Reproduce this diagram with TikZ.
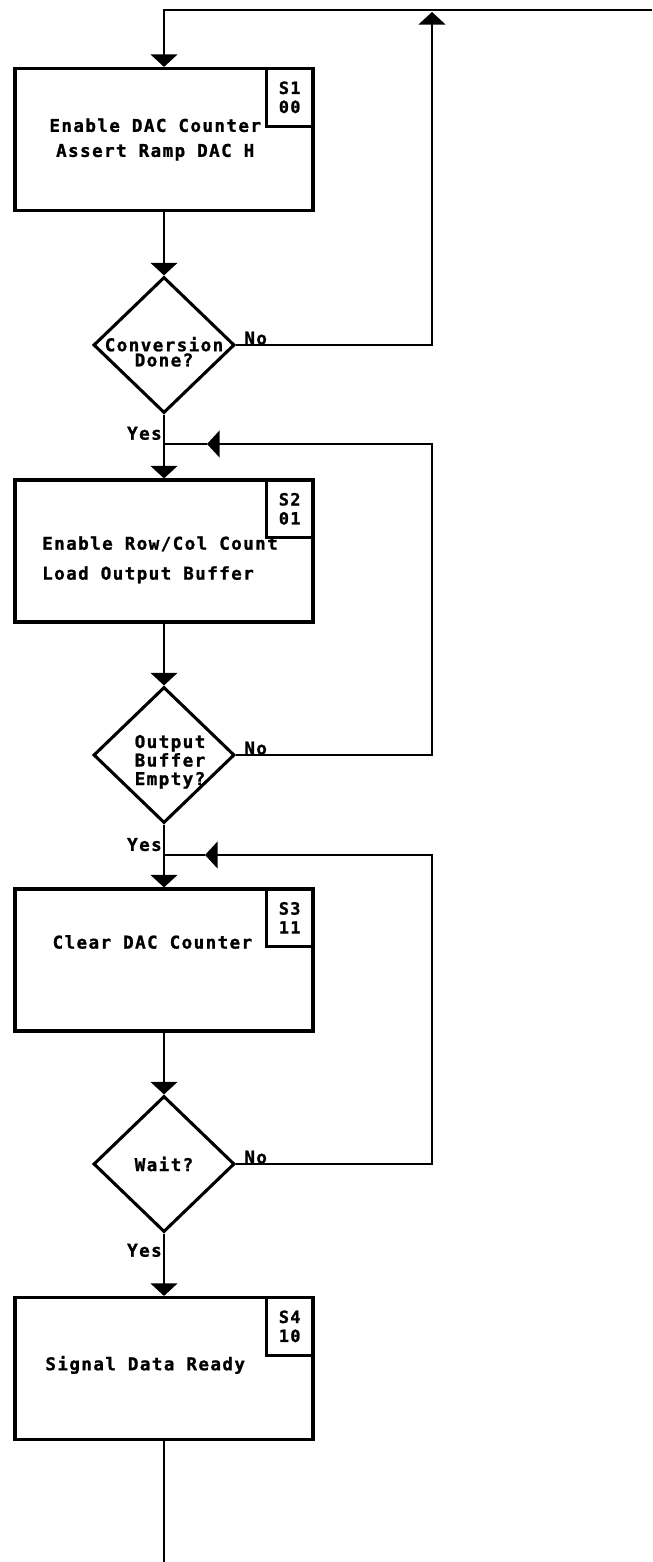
\documentclass[tikz,border=0pt]{standalone}
\usepackage{fontspec}
\newfontfamily\plotfont{DejaVu Sans Mono}[LetterSpace=8, BoldFeatures={FakeBold=1.2}]
\usetikzlibrary{shapes.geometric,arrows.meta}

\tikzset{
    statebox/.style={draw, line width=2.2pt, minimum width=7.45cm, minimum height=3.55cm, inner sep=0pt},
    tagbox/.style={draw, line width=2pt, minimum width=1.175cm, minimum height=1.45cm, inner sep=0pt,
        anchor=north east, align=center, font=\plotfont\bfseries\fontsize{12}{13.5}\selectfont},
    decision/.style={draw, diamond, line width=2.2pt, minimum width=3.525cm, minimum height=3.4cm, inner sep=0pt},
    boxtext/.style={inner sep=0pt, font=\plotfont\bfseries\fontsize{12.5}{17.8}\selectfont},
    asktext/.style={inner sep=0pt, font=\plotfont\bfseries\fontsize{12.5}{10.8}\selectfont},
    lbl/.style={inner sep=0pt, font=\plotfont\bfseries\fontsize{12.5}{13}\selectfont},
    wire/.style={line width=2pt},
    flow/.style={wire, -{Triangle[width=19pt, length=9pt]}},
}

\begin{document}
\begin{tikzpicture}[x=0.025cm, y=-0.025cm]
    \useasboundingbox (0,0) rectangle (652,1562);

    % States and tests
    \node[statebox, label={[boxtext, align=center, xshift=-0.22cm]center:{Enable DAC Counter\\Assert Ramp DAC H}}] (s1) at (164,139.5) {};
    \node[decision, label={[asktext, align=center, yshift=-0.17cm]center:{Conversion\\Done?}}] (d1) at (164,345) {};
    \node[statebox, label={[boxtext, align=left, xshift=-0.1cm, yshift=-0.22cm, font=\plotfont\bfseries\fontsize{12.5}{21.3}\selectfont]center:{Enable Row/Col Count\\Load Output Buffer}}] (s2) at (164,551) {};
    \node[decision, label={[asktext, align=left, xshift=0.15cm, yshift=-0.17cm, font=\plotfont\bfseries\fontsize{12.5}{13.2}\selectfont]center:{Output\\Buffer\\Empty?}}] (d2) at (164,755) {};
    \node[statebox, label={[boxtext, xshift=-0.29cm, yshift=0.45cm]center:Clear DAC Counter}] (s3) at (164,960) {};
    \node[decision, label={[asktext]center:Wait?}] (d3) at (164,1164) {};
    \node[statebox, label={[boxtext, xshift=-0.47cm, yshift=0.09cm]center:Signal Data Ready}] (s4) at (164,1368.5) {};

    % State codes
    \node[tagbox] (t1) at (s1.north east) {S1\\00};
    \node[tagbox] (t2) at (s2.north east) {S2\\01};
    \node[tagbox] (t3) at (s3.north east) {S3\\11};
    \node[tagbox] (t4) at (s4.north east) {S4\\10};

    % Loop points
    \coordinate (entry) at (652,10);
    \coordinate (r1) at (432,12);
    \coordinate (r2) at (432,444);
    \coordinate (m2) at (207,444);
    \coordinate (j2) at (164,444);
    \coordinate (r3) at (432,855);
    \coordinate (m3) at (205,855);
    \coordinate (j3) at (164,855);
    \coordinate (exit) at (164,1562);

    % Main flow
    \draw[flow] (entry) -| (s1.north);
    \draw[flow] (s1) -- (d1);
    \draw[flow] (d1) -- (s2);
    \draw[flow] (s2) -- (d2);
    \draw[flow] (d2) -- (s3);
    \draw[flow] (s3) -- (d3);
    \draw[flow] (d3) -- (s4);
    \draw[wire] (s4) -- (exit);

    % No branches
    \draw[flow] (d1.east) -| (r1);
    \draw[flow] (d2.east) -| (r2) -- (m2);
    \draw[wire] (m2) -- (j2);
    \draw[flow] (d3.east) -| (r3) -- (m3);
    \draw[wire] (m3) -- (j3);

    % Yes / No labels
    \node[lbl, anchor=south west] (no1) at ([xshift=0.2cm]d1.east) {No};
    \node[lbl, anchor=south west] (no2) at ([xshift=0.2cm]d2.east) {No};
    \node[lbl, anchor=south west] (no3) at ([xshift=0.2cm]d3.east) {No};
    \node[lbl, anchor=east] (yes1) at ([xshift=-0.05cm, yshift=-0.47cm]d1.south) {Yes};
    \node[lbl, anchor=east] (yes2) at ([xshift=-0.05cm, yshift=-0.5cm]d2.south) {Yes};
    \node[lbl, anchor=east] (yes3) at ([xshift=-0.05cm, yshift=-0.42cm]d3.south) {Yes};

\end{tikzpicture}
\end{document}
